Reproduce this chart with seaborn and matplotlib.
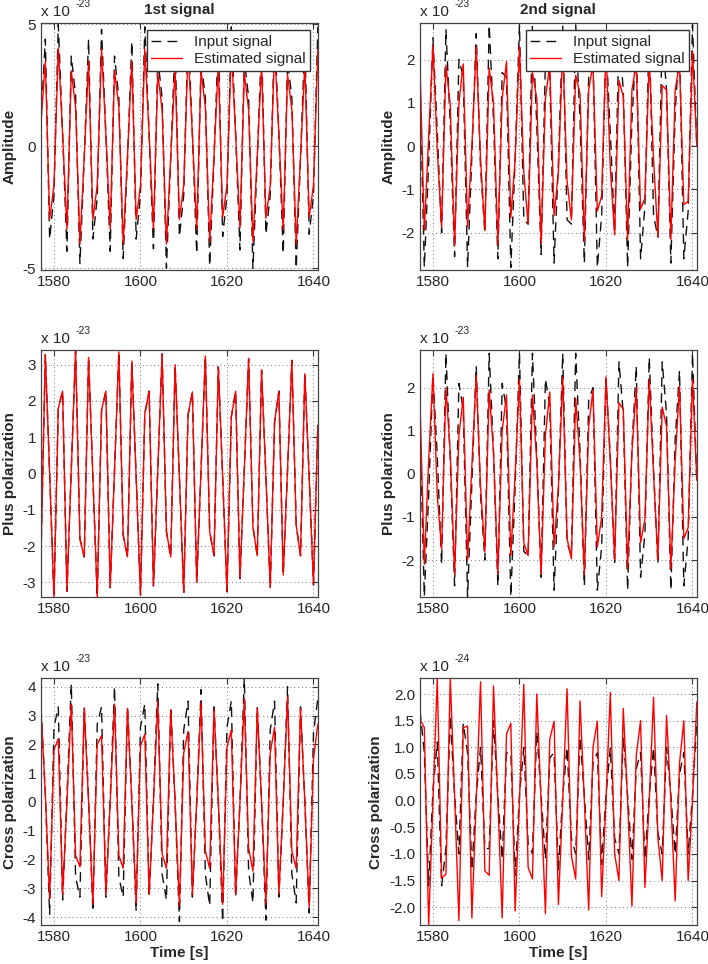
import numpy as np
import matplotlib
matplotlib.use("Agg")
import matplotlib.pyplot as plt
import seaborn as sns

# sample times [s]
time = list(range(1577, 1642))

# ---- 1st signal (units: 1e-23) ----
amp1_input = [1.0, 4.4, -3.8, -2.0, 5.0, 0.5, -4.3, 3.7, 2.1, -4.8,
              -0.5, 4.4, -3.8, -2.1, 4.8, 0.5, -4.3, 3.7, 2.0, -4.6,
              -0.5, 4.3, -3.8, -2.0, 4.9, 0.5, -4.2, 3.6, 2.0, -5.0,
              -0.5, 4.3, -3.7, -2.0, 4.8, 0.5, -4.4, 3.5, 2.0, -4.9,
              -0.5, 4.4, -3.7, -2.0, 4.9, 0.5, -4.25, 3.6, 2.0, -5.0,
              -0.5, 4.3, -3.6, -2.0, 4.8, 0.5, -4.4, 3.5, 2.0, -5.0,
              -0.5, 4.4, -3.6, -2.0, 4.9]
amp1_est = [0.96, 3.5, -3.0, -1.6, 4.04, 0.5, -3.4, 3.1, 1.6, -4.0,
            -0.4, 3.5, -3.0, -1.6, 4.0, 0.5, -3.4, 3.1, 1.6, -4.0,
            -0.4, 3.5, -3.0, -1.6, 4.0, 0.5, -3.4, 3.0, 1.5, -4.0,
            -0.4, 3.2, -3.0, -1.6, 3.95, 0.5, -3.4, 3.1, 1.6, -3.9,
            -0.4, 3.4, -2.9, -1.6, 4.0, 0.5, -3.35, 3.0, 1.5, -3.9,
            -0.4, 3.4, -2.95, -1.6, 4.0, 0.5, -3.4, 2.95, 1.5, -4.0,
            -0.4, 3.4, -2.9, -1.6, 3.97]
plus1_est = [-2.25, 3.28, 0.0, -3.42, 1.8, 2.27, -3.25, 0.1, 3.4, -1.8,
             -2.3, 3.2, -0.1, -3.4, 1.75, 2.27, -3.15, 0.1, 3.35, -1.7,
             -2.3, 3.1, -0.1, -3.35, 1.65, 2.27, -3.1, 0.1, 3.3, -1.6,
             -2.3, 3.0, -0.1, -3.28, 1.62, 2.25, -3.0, 0.1, 3.24, -1.6,
             -2.27, 2.94, -0.1, -3.26, 1.56, 2.27, -2.9, 0.1, 3.17, -1.47,
             -2.27, 2.85, -0.1, -3.15, 1.42, 2.27, -2.8, 0.1, 3.12, -1.42,
             -2.27, 2.75, -0.1, -3.07, 1.33]
plus1_input = list(plus1_est)  # hidden under the estimate
cross1_input = [3.3, 0.3, -3.9, 2.6, 3.3, -3.4, 0.2, 4.1, -2.6, -3.3,
                3.3, 0.1, -3.8, 2.7, 3.3, -3.3, 0.1, 4.0, -2.6, -3.3,
                3.3, 0.1, -3.8, 2.6, 3.4, -3.3, 0.1, 4.1, -2.5, -3.4,
                3.3, 0.0, -4.15, 2.5, 3.5, -3.3, 0.0, 3.9, -2.5, -3.6,
                3.3, 0.0, -4.15, 2.6, 3.5, -3.3, 0.0, 4.3, -2.4, -3.5,
                3.3, 0.0, -4.1, 2.5, 3.5, -3.3, 0.0, 4.0, -2.5, -3.5,
                3.3, 0.0, -3.85, 2.4, 3.6]
cross1_est = [3.2, 0.3, -3.35, 1.8, 2.2, -3.2, 0.0, 3.4, -1.85, -2.25,
              3.25, 0.0, -3.55, 2.0, 2.3, -3.2, 0.0, 3.4, -1.85, -2.3,
              3.25, 0.0, -3.5, 1.95, 2.35, -3.2, 0.0, 3.5, -1.8, -2.3,
              3.2, 0.0, -3.6, 1.7, 2.45, -3.2, 0.0, 3.45, -1.7, -2.3,
              3.25, 0.0, -3.55, 1.9, 2.5, -3.2, 0.0, 3.6, -1.6, -2.4,
              3.25, 0.0, -3.55, 1.7, 2.6, -3.2, 0.0, 3.65, -1.7, -2.3,
              3.25, 0.0, -3.65, 1.5, 2.7]

# ---- 2nd signal ----
amp2_input = [1.5, -2.8, -0.4, 2.5, 0.3, -2.0, 2.7, 0.5, -2.55, 2.0,
              1.6, -2.8, -0.2, 2.6, -0.5, -2.0, 2.8, 0.6, -2.6, 1.7,
              1.6, -2.8, -0.3, 2.8, -1.7, -1.8, 2.8, 0.5, -2.5, 2.0,
              1.7, -2.7, -0.4, 2.8, -1.7, -1.8, 2.8, 0.6, -2.7, 1.6,
              2.0, -2.8, -1.6, 2.4, 0.3, -2.0, 2.6, 1.3, -2.8, 0.6,
              2.4, -2.6, -1.4, 2.7, -1.6, -2.1, 2.6, 1.3, -2.7, 0.8,
              2.4, -2.6, -1.5, 2.8, 0.0]
amp2_est = [1.85, -1.95, 0.2, 2.33, -0.1, -1.87, 1.87, 0.95, -2.3, 1.0,
            1.9, -1.85, 0.0, 2.3, -0.3, -1.95, 1.8, 1.0, -2.28, 1.1,
            1.95, -1.65, -0.3, 2.3, -0.6, -1.8, 1.7, 1.1, -2.25, 1.1,
            1.9, -1.6, -0.6, 2.3, -0.8, -1.7, 1.64, 1.2, -2.2, 1.3,
            1.9, -1.5, -1.15, 2.3, -0.5, -2.05, 1.52, 1.15, -2.15, 1.3,
            1.9, -1.45, -1.2, 2.0, -0.3, -2.1, 1.4, 1.3, -2.15, 1.3,
            1.9, -1.35, -1.28, 2.2, 0.0]
plus2_input = [1.2, -2.85, -0.5, 2.3, 0.4, -2.1, 2.8, 0.3, -2.6, 2.1,
               1.5, -2.85, -0.2, 2.5, -0.5, -2.0, 2.8, 0.5, -2.6, 2.1,
               1.5, -2.85, -0.3, 2.8, -1.8, -1.9, 2.8, 0.4, -2.4, 2.2,
               1.6, -2.7, -0.4, 2.8, -1.6, -1.9, 2.8, 0.5, -2.6, 1.7,
               2.0, -2.7, -1.7, 2.2, 0.4, -2.1, 2.6, 1.4, -2.7, 0.6,
               2.5, -2.4, -1.4, 2.7, 0.1, -2.1, 2.6, 1.4, -2.7, 0.8,
               2.4, -2.6, -1.5, 2.8, -0.2]
plus2_est = [1.67, -2.1, 0.3, 2.33, -0.5, -1.75, 2.0, 0.5, -2.33, 0.9,
             1.78, -2.0, 0.2, 2.3, -0.3, -1.8, 1.95, 0.5, -2.33, 1.0,
             1.83, -1.9, 0.0, 2.2, -1.6, -1.9, 1.83, 0.3, -2.33, 0.9,
             1.9, -1.7, -0.3, 2.25, -1.5, -1.97, 1.75, 0.3, -2.33, 1.1,
             1.95, -1.7, -1.0, 2.25, 0.3, -1.98, 1.65, 1.5, -2.2, 0.5,
             2.0, -1.6, -1.05, 2.2, 0.0, -2.0, 1.55, 1.1, -2.2, 0.3,
             2.05, -1.5, -1.25, 2.2, -0.15]
# units: 1e-24
cross2_input = [1.7, 0.9, -1.6, 0.2, 1.1, -1.6, -0.9, 1.6, 0.1, -1.0,
                1.45, 0.9, -1.3, 0.1, 1.0, -0.9, -0.9, 1.5, 0.1, -1.1,
                0.9, 0.9, -1.4, 0.1, 1.0, -0.8, -1.0, 1.3, 0.1, -1.1,
                0.8, 0.9, -1.3, 0.1, 1.0, -0.7, -1.0, 1.2, 0.1, -1.1,
                0.7, 0.9, -1.2, 0.1, 1.0, -0.7, -1.0, 1.2, 0.1, -1.1,
                0.6, 0.9, -1.1, 0.1, 1.0, -0.6, -1.0, 1.0, 0.1, -1.0,
                0.5, 0.9, -1.0, 0.1, 1.5]
cross2_est = [1.53, 1.37, -2.35, 0.0, 2.3, -1.45, -1.38, 2.3, 0.1, -2.25,
              1.37, 1.4, -2.2, 0.0, 2.23, -1.32, -1.4, 2.15, 0.0, -2.2,
              1.25, 1.45, -2.07, 0.0, 2.18, -1.25, -1.47, 2.0, 0.0, -2.12,
              1.15, 1.49, -1.95, 0.0, 2.1, -1.03, -1.47, 1.87, 0.0, -2.05,
              1.0, 1.49, -1.8, 0.0, 2.03, -1.0, -1.5, 1.73, 0.0, -1.98,
              0.85, 1.5, -1.63, 0.0, 1.94, -0.7, -1.5, 1.6, 0.0, -1.88,
              0.7, 1.5, -1.5, 0.0, 1.85]

panels = [
    # (input, estimate, ylabel, ylim, yticks, exponent, title, xlabel, legend, fmt)
    (amp1_input, amp1_est, "Amplitude", (-5.07, 5.07), [-5, 0, 5], "-23", "1st signal", False, True, "%g"),
    (amp2_input, amp2_est, "Amplitude", (-2.86, 2.85), [-2, -1, 0, 1, 2], "-23", "2nd signal", False, True, "%g"),
    (plus1_input, plus1_est, "Plus polarization", (-3.42, 3.4), [-3, -2, -1, 0, 1, 2, 3], "-23", None, False, False, "%g"),
    (plus2_input, plus2_est, "Plus polarization", (-2.87, 2.87), [-2, -1, 0, 1, 2], "-23", None, False, False, "%g"),
    (cross1_input, cross1_est, "Cross polarization", (-4.28, 4.3), [-4, -3, -2, -1, 0, 1, 2, 3, 4], "-23", None, True, False, "%g"),
    (cross2_input, cross2_est, "Cross polarization", (-2.34, 2.3),
     [-2.0, -1.5, -1.0, -0.5, 0.0, 0.5, 1.0, 1.5, 2.0], "-24", None, True, False, "%.1f"),
]

sns.set_style("white")
plt.rcParams['font.family'] = ['Liberation Sans', 'DejaVu Sans']
plt.rcParams['axes.unicode_minus'] = False

fig = plt.figure(figsize=(7.08, 9.64), dpi=100)
lefts = [0.0579, 0.5932]
bottoms = [0.7199, 0.3802, 0.0401]

for k, (inp, est, ylab, ylim, yt, expo, title, xlab, leg, fmt) in enumerate(panels):
    row, col = k // 2, k % 2
    ax = fig.add_axes([lefts[col], bottoms[row], 0.391, 0.2565])
    sns.lineplot(x=time, y=inp, ax=ax, color="#111111", lw=1.0, estimator=None,
                 sort=False, label="Input signal")
    ax.lines[-1].set_dashes((7, 4.5))
    sns.lineplot(x=time, y=est, ax=ax, color="red", lw=1.0, estimator=None,
                 sort=False, label="Estimated signal")
    ax.set_xlim(1577, 1641)
    ax.set_ylim(*ylim)
    ax.set_xticks([1580, 1600, 1620, 1640])
    ax.set_yticks(yt)
    ax.yaxis.set_major_formatter(matplotlib.ticker.FormatStrFormatter(fmt))
    ax.grid(True, linestyle=(0, (1, 3)), color="#777777", lw=0.7)
    ax.tick_params(direction="in", top=True, right=True, length=4, labelsize=11,
                   color="#333333")
    for s in ax.spines.values():
        s.set_color("#444444")
        s.set_linewidth(0.9)
    ax.set_ylabel(ylab, fontsize=11, fontweight="bold")
    if xlab:
        ax.set_xlabel("Time [s]", fontsize=11, fontweight="bold", labelpad=1)
    else:
        ax.set_xlabel("")
    if title:
        ax.set_title(title, fontsize=11, fontweight="bold", pad=6)
    # exponent label, matlab style
    ax.annotate("x 10", xy=(0, 1), xycoords="axes fraction", xytext=(0, 3),
                textcoords="offset points", ha="left", va="bottom", fontsize=11)
    ax.annotate(expo, xy=(0, 1), xycoords="axes fraction", xytext=(25, 10),
                textcoords="offset points", ha="left", va="bottom", fontsize=7.5)
    if leg:
        ax.legend(loc="upper right", fontsize=11, frameon=True, fancybox=False,
                  edgecolor="#333333", framealpha=1, handlelength=2.0,
                  borderpad=0.3, labelspacing=0.2, borderaxespad=0.5)
    else:
        ax.get_legend().remove()

fig.savefig("out.png", dpi=100)
